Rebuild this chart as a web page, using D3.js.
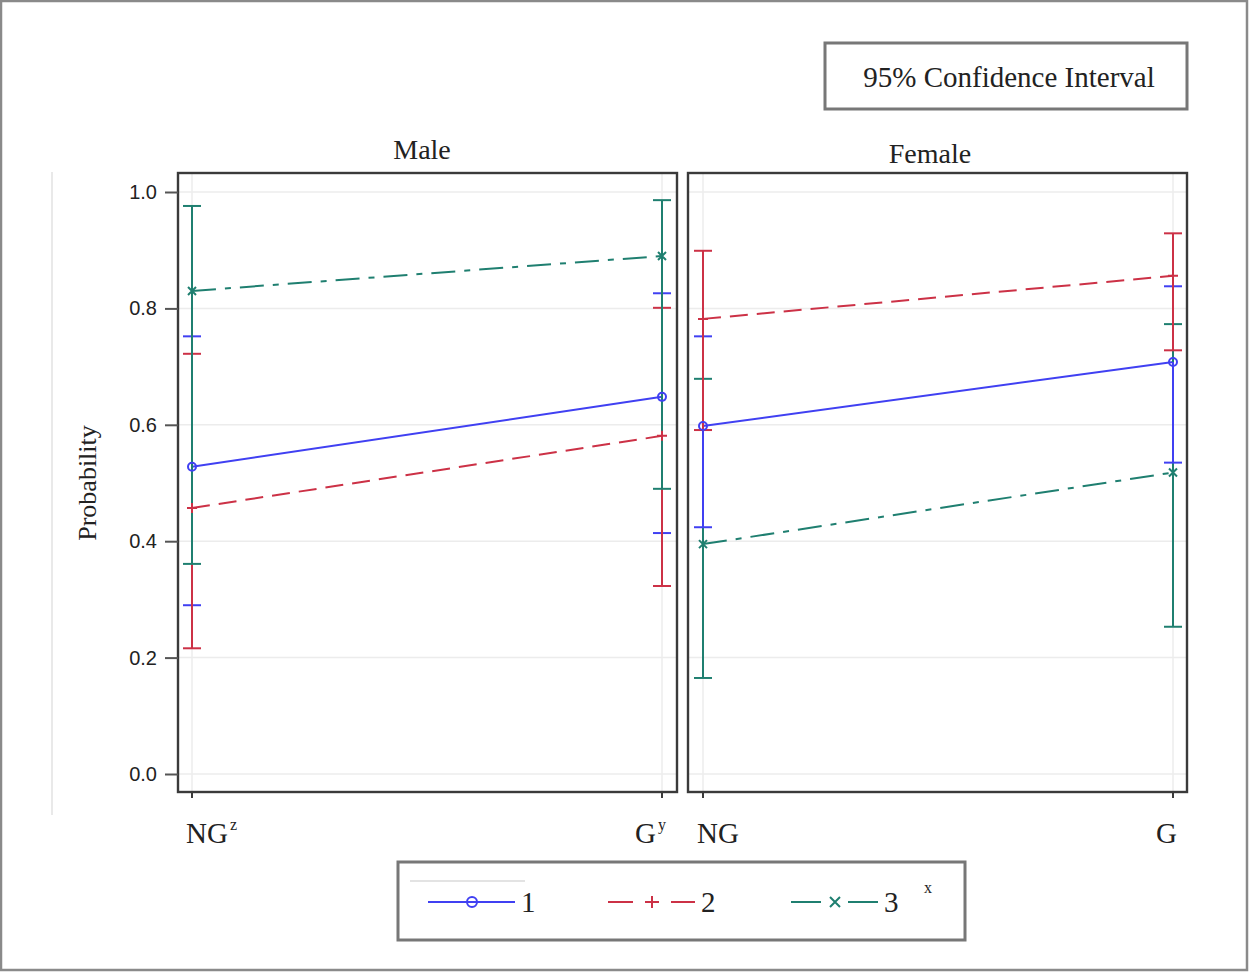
<!DOCTYPE html>
<html>
<head>
<meta charset="utf-8">
<script src="https://cdn.jsdelivr.net/npm/d3@7"></script>
<style>
  html, body { margin: 0; padding: 0; background: #fff; }
  svg { display: block; }
</style>
</head>
<body>
<div id="chart"></div>
<script>
// panels and categories
var panels = ["Male", "Female"];
var levels = ["NG", "G"];
var levelLabels = [["NG", "z"], ["G", "y"], ["NG", ""], ["G", ""]];
var seriesNames = ["1", "2", "3"];

// values: Male NG, Male G, Female NG, Female G
var est1 = [0.528, 0.648, 0.598, 0.708];
var lo1  = [0.290, 0.414, 0.424, 0.535];
var hi1  = [0.752, 0.826, 0.752, 0.838];
var est2 = [0.457, 0.581, 0.782, 0.856];
var lo2  = [0.216, 0.323, 0.591, 0.728];
var hi2  = [0.722, 0.801, 0.899, 0.929];
var est3 = [0.830, 0.890, 0.395, 0.518];
var lo3  = [0.361, 0.490, 0.165, 0.253];
var hi3  = [0.976, 0.986, 0.679, 0.773];

var yTicks = [0, 0.2, 0.4, 0.6, 0.8, 1.0];

var colors = ["#4040f2", "#cc3146", "#1f7f70"];
var dashes = [null, "18,9", "24,9,6,9"];
var legDashes = [null, "25,12,14,12,24", "30,27,30"];

var W = 1249, H = 972;
var serif = "'Liberation Serif', 'Times New Roman', serif";
var sans = "'Liberation Sans', Arial, sans-serif";

var svg = d3.select("#chart").append("svg")
  .attr("width", W).attr("height", H);

svg.append("rect")
  .attr("x", 1).attr("y", 1).attr("width", W - 3).attr("height", H - 3)
  .attr("fill", "#fff").attr("stroke", "#8a8a8a").attr("stroke-width", 2.5);

// layout of the two cells
var panelTop = 173, panelBottom = 792;
var panelBox = [[178, 677], [688, 1187]];
var pointRange = [[192, 662], [703, 1173]];
var titleX = [422, 930], titleY = [159, 163];

var y = d3.scaleLinear().domain([0, 1]).range([774, 192]);

var series = [
  {name: seriesNames[0], est: est1, lo: lo1, hi: hi1},
  {name: seriesNames[1], est: est2, lo: lo2, hi: hi2},
  {name: seriesNames[2], est: est3, lo: lo3, hi: hi3}
];

// faint rule at the left
svg.append("line")
  .attr("x1", 52).attr("x2", 52).attr("y1", 172).attr("y2", 815)
  .attr("stroke", "#e2e2e2").attr("stroke-width", 1.5);

panels.forEach(function(p, pi){
  var x = d3.scalePoint().domain(levels).range(pointRange[pi]);
  var x0 = panelBox[pi][0], x1 = panelBox[pi][1];
  var g = svg.append("g");

  // grid
  g.selectAll("line.hg").data(yTicks).enter().append("line")
    .attr("x1", x0).attr("x2", x1)
    .attr("y1", function(d){ return y(d); })
    .attr("y2", function(d){ return y(d); })
    .attr("stroke", "#ececec").attr("stroke-width", 1.5);
  g.selectAll("line.vg").data(levels).enter().append("line")
    .attr("x1", function(d){ return x(d); })
    .attr("x2", function(d){ return x(d); })
    .attr("y1", panelTop).attr("y2", panelBottom)
    .attr("stroke", "#ececec").attr("stroke-width", 1.5);

  // connecting lines
  series.forEach(function(s, si){
    var pts = levels.map(function(l, li){ return [x(l), y(s.est[pi * 2 + li])]; });
    g.append("path")
      .attr("d", d3.line()(pts))
      .attr("fill", "none")
      .attr("stroke", colors[si])
      .attr("stroke-width", 2)
      .attr("stroke-dasharray", dashes[si]);
  });

  // error bars: upper halves first, then lower halves
  ["hi", "lo"].forEach(function(side){
    series.forEach(function(s, si){
      levels.forEach(function(l, li){
        var k = pi * 2 + li;
        var cx = x(l), e = y(s.est[k]), end = y(s[side][k]);
        g.append("line")
          .attr("x1", cx).attr("x2", cx).attr("y1", e).attr("y2", end)
          .attr("stroke", colors[si]).attr("stroke-width", 2);
        g.append("line")
          .attr("x1", cx - 9).attr("x2", cx + 9).attr("y1", end).attr("y2", end)
          .attr("stroke", colors[si]).attr("stroke-width", 2);
      });
    });
  });

  // markers
  series.forEach(function(s, si){
    levels.forEach(function(l, li){
      drawMarker(g, si, x(l), y(s.est[pi * 2 + li]), 4);
    });
  });

  // frame
  g.append("rect")
    .attr("x", x0).attr("y", panelTop)
    .attr("width", x1 - x0).attr("height", panelBottom - panelTop)
    .attr("fill", "none").attr("stroke", "#3a3a3a").attr("stroke-width", 2.4);

  // x ticks
  g.selectAll("line.xt").data(levels).enter().append("line")
    .attr("x1", function(d){ return x(d); })
    .attr("x2", function(d){ return x(d); })
    .attr("y1", panelBottom).attr("y2", panelBottom + 6)
    .attr("stroke", "#3a3a3a").attr("stroke-width", 2);

  // x labels
  levels.forEach(function(l, li){
    var lab = levelLabels[pi * 2 + li];
    var t = g.append("text")
      .attr("x", li === 0 ? x(l) - 6 : x(l) + 4)
      .attr("y", 843)
      .attr("text-anchor", li === 0 ? "start" : "end")
      .attr("font-family", serif).attr("font-size", 29)
      .attr("fill", "#222");
    t.append("tspan").text(lab[0]);
    if (lab[1]) {
      t.append("tspan").attr("font-size", 16).attr("dy", -13).attr("dx", 2).text(lab[1]);
    }
  });

  // panel title
  g.append("text")
    .attr("x", titleX[pi])
    .attr("y", titleY[pi])
    .attr("text-anchor", "middle")
    .attr("font-family", serif).attr("font-size", 28)
    .attr("fill", "#222")
    .text(p);
});

// y axis
var yAxis = d3.axisLeft(y).tickValues(yTicks)
  .tickFormat(d3.format(".1f")).tickSize(13).tickPadding(8);
var ya = svg.append("g").attr("transform", "translate(178,0)").call(yAxis);
ya.select(".domain").remove();
ya.selectAll(".tick line").attr("stroke", "#555").attr("stroke-width", 2);
ya.selectAll(".tick text")
  .attr("font-family", sans).attr("font-size", 20).attr("fill", "#222");

svg.append("text")
  .attr("transform", "translate(96,483) rotate(-90)")
  .attr("text-anchor", "middle")
  .attr("font-family", serif).attr("font-size", 26)
  .attr("fill", "#222")
  .text("Probability");

// confidence interval box
svg.append("rect")
  .attr("x", 825).attr("y", 43).attr("width", 362).attr("height", 66)
  .attr("fill", "#fff").attr("stroke", "#777").attr("stroke-width", 3);
svg.append("text")
  .attr("x", 1009).attr("y", 87)
  .attr("text-anchor", "middle")
  .attr("font-family", serif).attr("font-size", 29)
  .attr("fill", "#222")
  .text("95% Confidence Interval");

// legend
var leg = svg.append("g");
leg.append("rect")
  .attr("x", 398).attr("y", 862).attr("width", 567).attr("height", 78)
  .attr("fill", "#fff").attr("stroke", "#777").attr("stroke-width", 3);
leg.append("line")
  .attr("x1", 410).attr("x2", 525).attr("y1", 881).attr("y2", 881)
  .attr("stroke", "#c8c8c8").attr("stroke-width", 1.2);

var legX = [428, 608, 791];
var legY = 902;
seriesNames.forEach(function(name, si){
  var lx = legX[si];
  leg.append("line")
    .attr("x1", lx).attr("x2", lx + 87).attr("y1", legY).attr("y2", legY)
    .attr("stroke", colors[si]).attr("stroke-width", 2)
    .attr("stroke-dasharray", legDashes[si]);
  drawMarker(leg, si, lx + 44, legY, 5);
  leg.append("text")
    .attr("x", lx + 93).attr("y", legY + 10)
    .attr("font-family", serif).attr("font-size", 29)
    .attr("fill", "#222")
    .text(name);
});
leg.append("text")
  .attr("x", 924).attr("y", 893)
  .attr("font-family", serif).attr("font-size", 16)
  .attr("fill", "#222")
  .text("x");

function drawMarker(g, si, cx, cy, r){
  if (si === 0) {
    g.append("circle").attr("cx", cx).attr("cy", cy).attr("r", r)
      .attr("fill", "none").attr("stroke", colors[si]).attr("stroke-width", 2);
  } else if (si === 1) {
    g.append("path")
      .attr("d", "M" + (cx - r - 1) + "," + cy + "H" + (cx + r + 1) + "M" + cx + "," + (cy - r - 1) + "V" + (cy + r + 1))
      .attr("stroke", colors[si]).attr("stroke-width", 2);
  } else {
    g.append("path")
      .attr("d", "M" + (cx - r) + "," + (cy - r) + "L" + (cx + r) + "," + (cy + r) + "M" + (cx - r) + "," + (cy + r) + "L" + (cx + r) + "," + (cy - r))
      .attr("stroke", colors[si]).attr("stroke-width", 2);
  }
}
</script>
</body>
</html>
